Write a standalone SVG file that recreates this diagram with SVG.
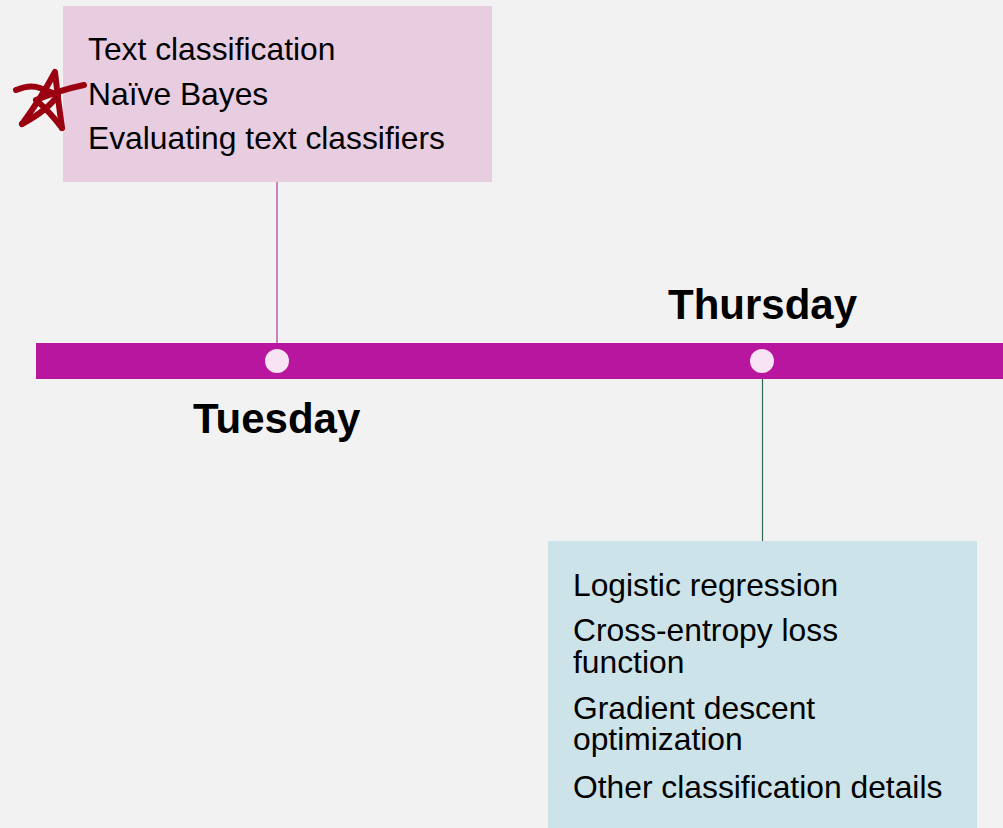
<svg xmlns="http://www.w3.org/2000/svg" width="1003" height="828" viewBox="0 0 1003 828">
<style>
.t{font-family:"Liberation Sans",Arial,sans-serif;font-size:31.8px;fill:#000}
.d{font-family:"Liberation Sans",Arial,sans-serif;font-size:42px;font-weight:bold;fill:#000}
.dot{fill:#f7e3f3}
</style>
<rect width="1003" height="828" fill="#f2f2f2"/>
<g id="connectors">
<line x1="277" y1="182" x2="277" y2="343" stroke="#a01285" stroke-width="1"/>
<line x1="762.5" y1="379" x2="762.5" y2="541" stroke="#2e6b4f" stroke-width="1.2"/>
</g>
<g id="timeline">
<rect x="36" y="343" width="967" height="36" fill="#b8169e"/>
</g>
<g id="tuesday-dot"><circle cx="277" cy="361" r="12" class="dot"/></g>
<g id="thursday-dot"><circle cx="762" cy="361" r="12" class="dot"/></g>
<g id="tuesday-label"><text class="d" x="193" y="433">Tuesday</text></g>
<g id="thursday-label"><text class="d" x="668" y="319">Thursday</text></g>
<g id="tuesday-box">
<rect x="63" y="6" width="429" height="176" fill="#e8cde1"/>
<text class="t" x="88" y="60">Text classification</text>
<text class="t" x="88" y="105">Naïve Bayes</text>
<text class="t" x="88" y="149">Evaluating text classifiers</text>
</g>
<g id="thursday-box">
<rect x="548" y="541" width="429" height="287" fill="#cce3e9"/>
<text class="t" x="573" y="596">Logistic regression</text>
<text class="t" x="573" y="641">Cross-entropy loss<tspan x="573" y="673">function</tspan></text>
<text class="t" x="573" y="719">Gradient descent<tspan x="573" y="750">optimization</tspan></text>
<text class="t" x="573" y="798">Other classification details</text>
</g>
<g id="star" fill="none" stroke="#9a0010" stroke-width="6" stroke-linecap="round" stroke-linejoin="round">
<path d="M16 90 Q30 84 40 88 L58 95 Q48 110 22 124"/>
<path d="M22 124 Q40 100 55 72 Q58 100 62 128"/>
<path d="M62 128 Q50 112 36 100 Q60 90 84 85"/>
</g>
</svg>
